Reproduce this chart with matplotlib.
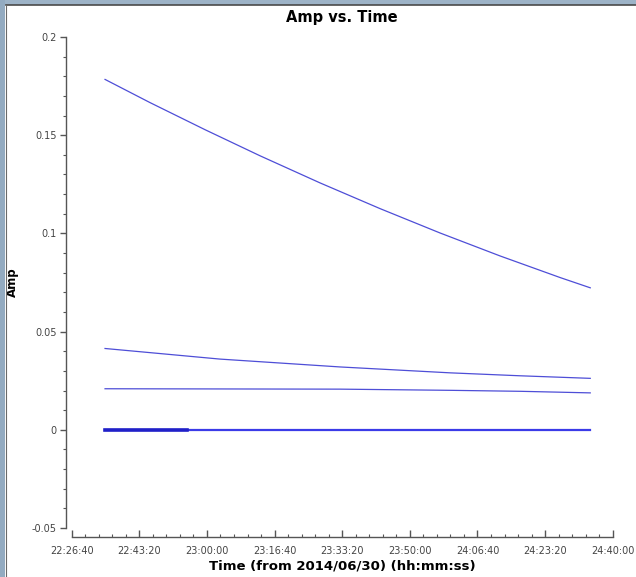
import matplotlib
matplotlib.use("Agg")
import matplotlib.pyplot as plt
from matplotlib.ticker import FuncFormatter, MultipleLocator
from matplotlib.patches import Rectangle
from matplotlib.lines import Line2D

# ---- data ----
times_top = ["22:34:53", "22:45:58", "22:59:32", "23:13:06", "23:27:53", "23:42:41",
             "23:57:28", "24:12:16", "24:27:04", "24:34:28"]
amp_top = [0.1784, 0.1666, 0.1528, 0.1395, 0.1257, 0.1126, 0.1002, 0.0885, 0.0775, 0.0723]

times_mid = ["22:34:53", "23:03:14", "23:32:49", "23:59:56", "24:17:12", "24:34:28"]
amp_mid = [0.0414, 0.0360, 0.0320, 0.0290, 0.0275, 0.0262]

times_low = ["22:34:53", "23:32:49", "23:59:56", "24:17:12", "24:34:28"]
amp_low = [0.0209, 0.0207, 0.0201, 0.0196, 0.0188]

times_zero = ["22:34:53", "24:34:28"]
amp_zero = [0.0, 0.0]
times_zero_thick = ["22:34:53", "22:55:06"]
amp_zero_thick = [0.0, 0.0]

x_ticks = ["22:26:40", "22:43:20", "23:00:00", "23:16:40", "23:33:20",
           "23:50:00", "24:06:40", "24:23:20", "24:40:00"]
y_ticks = [-0.05, 0, 0.05, 0.1, 0.15, 0.2]


def to_sec(s):
    h, m, sec = s.split(":")
    return int(h) * 3600 + int(m) * 60 + int(sec)


def fmt(v, pos=None):
    v = int(round(v))
    return "%02d:%02d:%02d" % (v // 3600, (v % 3600) // 60, v % 60)


W, H = 636, 577
PX = 72 / 100  # points per pixel
fig = plt.figure(figsize=(W / 100, H / 100), dpi=100, facecolor="white")

# window frame
fig.patches.append(Rectangle((0, 1 - 4.5 / H), 1, 4.5 / H, transform=fig.transFigure,
                             facecolor="#9db3c7", edgecolor="none", zorder=-1))
fig.patches.append(Rectangle((0, 0), 5 / W, 1, transform=fig.transFigure,
                             facecolor="#93abc1", edgecolor="none", zorder=-1))
fig.lines.append(Line2D([5.5 / W, 1], [1 - 5 / H, 1 - 5 / H], transform=fig.transFigure,
                        color="#4a4a4a", lw=1.2))
fig.lines.append(Line2D([5.5 / W, 5.5 / W], [0, 1 - 5 / H], transform=fig.transFigure,
                        color="#6a6a6a", lw=0.8))

left, right = 71.7, 612.7
top, bottom = 37, 528
ax = fig.add_axes([left / W, 1 - bottom / H, (right - left) / W, (bottom - top) / H])

line_color = "#2f2fd0"
ax.plot([to_sec(t) for t in times_top], amp_top, color=line_color, lw=0.9, alpha=0.85)
ax.plot([to_sec(t) for t in times_mid], amp_mid, color=line_color, lw=0.9, alpha=0.85)
ax.plot([to_sec(t) for t in times_low], amp_low, color=line_color, lw=0.9, alpha=0.85)
ax.plot([to_sec(t) for t in times_zero], amp_zero, color="#3b3be8", lw=1.6)
ax.plot([to_sec(t) for t in times_zero_thick], amp_zero_thick, color="#2020c8", lw=2.6)

ax.set_xlim(to_sec(x_ticks[0]), to_sec(x_ticks[-1]))
ax.set_ylim(-0.05, 0.2)

ax.set_xticks([to_sec(t) for t in x_ticks])
ax.xaxis.set_major_formatter(FuncFormatter(fmt))
ax.xaxis.set_minor_locator(MultipleLocator(200))
ax.set_yticks(y_ticks)
ax.set_yticklabels(["-0.05", "0", "0.05", "0.1", "0.15", "0.2"])
ax.yaxis.set_minor_locator(MultipleLocator(0.01))

for s in ["top", "right"]:
    ax.spines[s].set_visible(False)
ax.spines["left"].set_position(("outward", 6 * PX))
ax.spines["bottom"].set_position(("outward", 9 * PX))
for s in ["left", "bottom"]:
    ax.spines[s].set_color("#555555")
    ax.spines[s].set_linewidth(1.0)

ax.tick_params(axis="x", which="major", direction="in", length=7 * PX, width=1.0,
               color="#555555", labelsize=7, labelcolor="#444444", pad=6.5)
ax.tick_params(axis="x", which="minor", direction="in", length=3.5 * PX, width=0.8,
               color="#555555")
ax.tick_params(axis="y", which="major", direction="out", length=6 * PX, width=1.0,
               color="#555555", labelsize=7, labelcolor="#444444", pad=2)
ax.tick_params(axis="y", which="minor", direction="out", length=3 * PX, width=0.8,
               color="#555555")

ax.set_title("Amp vs. Time", fontsize=10.5, fontweight="bold", pad=11)
ax.set_xlabel("Time (from 2014/06/30) (hh:mm:ss)", fontsize=9.5, fontweight="bold")
ax.set_ylabel("Amp", fontsize=8.5, fontweight="bold")
ax.yaxis.set_label_coords((12 - left) / (right - left), 0.5)
ax.xaxis.set_label_coords(0.5, -(566 - bottom) / (bottom - top))
ax.xaxis.label.set_va("center")
ax.yaxis.label.set_va("center")

fig.savefig("out.png", dpi=100, facecolor=fig.get_facecolor())
